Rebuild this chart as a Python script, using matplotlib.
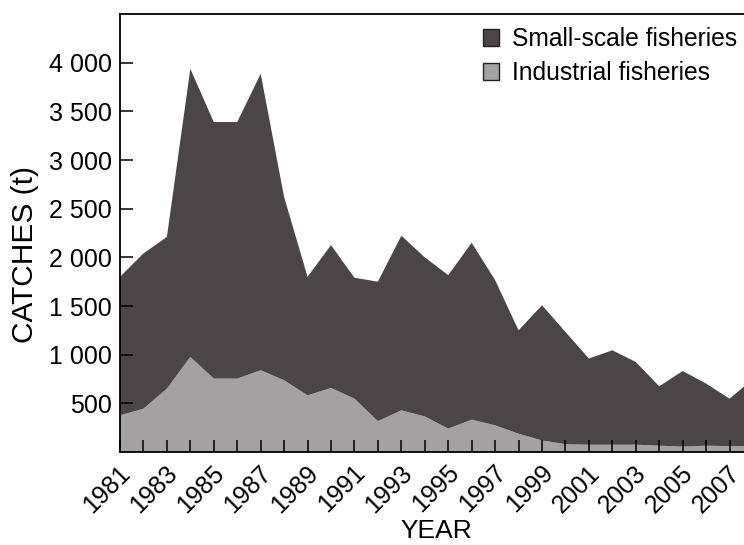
import matplotlib.pyplot as plt
import matplotlib.transforms as mtransforms
from matplotlib.patches import Patch

# catches (t)
years = list(range(1981, 2009))
industrial = [377, 445, 651, 977, 754, 754, 840, 737, 582, 658, 548, 318, 428, 366,
              240, 332, 274, 188, 119, 80, 75, 75, 75, 65, 55, 65, 60, 60]
small_scale = [1423, 1595, 1559, 2960, 2636, 2636, 3046, 1883, 1218, 1468, 1242, 1432,
               1794, 1634, 1577, 1818, 1492, 1062, 1389, 1154, 885, 970, 850, 610,
               777, 638, 488, 690]
series_labels = ['Small-scale fisheries', 'Industrial fisheries']
y_ticks = [500, 1000, 1500, 2000, 2500, 3000, 3500, 4000]
y_tick_labels = ['500', '1 000', '1 500', '2 000', '2 500', '3 000', '3 500', '4 000']

plt.rcParams['font.family'] = ['Liberation Sans', 'DejaVu Sans']

dark = '#4b4547'
light = '#a3a1a2'

fig = plt.figure(figsize=(7.44, 5.45), dpi=100)
# axes runs past the right edge, as in the cropped original
ax = fig.add_axes([120 / 744, 1 - 452 / 545, 633 / 744, 438 / 545])

ax.stackplot(years, industrial, small_scale, colors=[light, dark], linewidth=0)

ax.set_xlim(1981, 2008)
ax.set_ylim(0, 4500)

ax.set_xticks(years)
ax.set_xticklabels([str(y) if y % 2 == 1 else '' for y in years],
                   rotation=45, ha='right', va='center', rotation_mode='anchor')
ax.set_yticks(y_ticks)
ax.set_yticklabels(y_tick_labels)
ax.tick_params(axis='both', direction='in', length=9, width=1.1, labelsize=18, color='black')
ax.tick_params(axis='x', pad=11)
ax.tick_params(axis='y', pad=6)

# nudge the rotated year labels a little right, like the original
shift = mtransforms.ScaledTranslation(0.07, -0.02, fig.dpi_scale_trans)
for lab in ax.get_xticklabels():
    lab.set_transform(lab.get_transform() + shift)

for s in ax.spines.values():
    s.set_linewidth(1.3)

ax.set_xlabel('YEAR', fontsize=19)
ax.xaxis.set_label_coords(0.5, -0.152)
ax.set_ylabel('CATCHES (t)', fontsize=21.5)
ax.yaxis.set_label_coords(-0.128, 0.452)

# legend, small-scale listed first
handles = [Patch(facecolor=dark, edgecolor='#222222', linewidth=1),
           Patch(facecolor=light, edgecolor='#222222', linewidth=1)]
fig.legend(handles, series_labels, loc='upper left', bbox_to_anchor=(483 / 744, 1 - 27 / 545),
           frameon=False, fontsize=17.7, handlelength=0.65, handleheight=0.65,
           handletextpad=0.55, labelspacing=0.42, borderpad=0, borderaxespad=0)

plt.savefig('out.png', dpi=100)
